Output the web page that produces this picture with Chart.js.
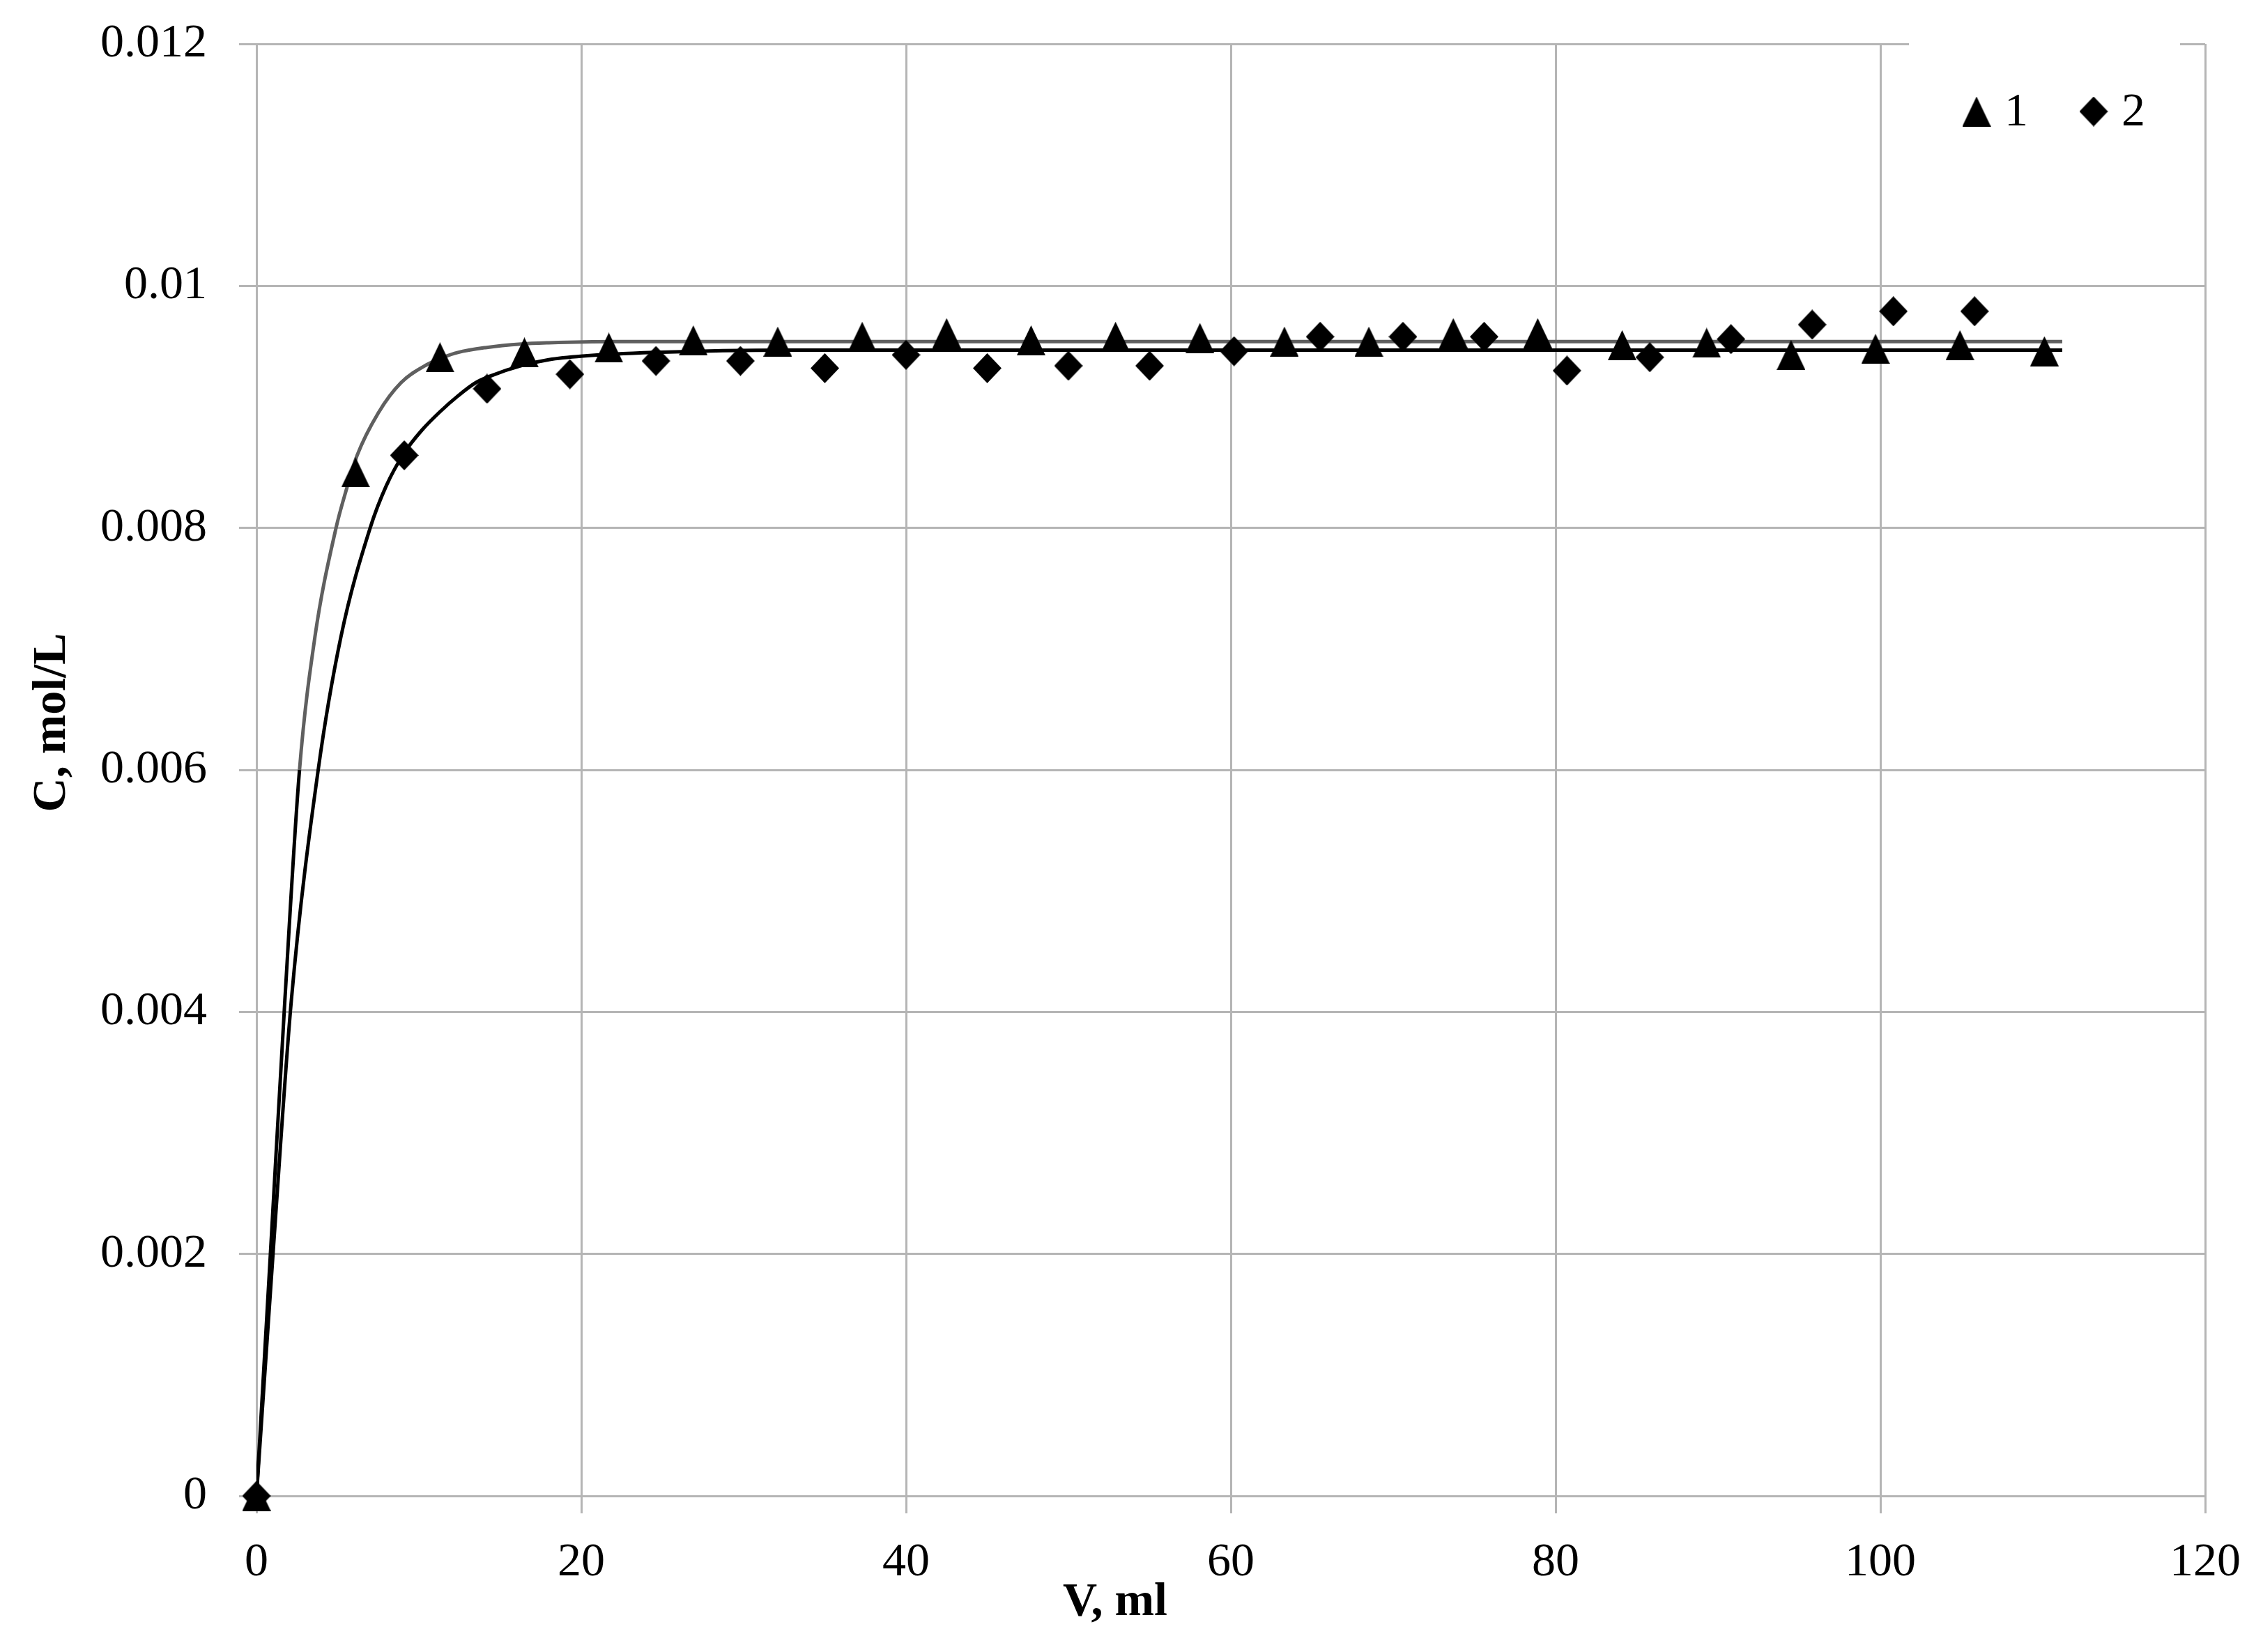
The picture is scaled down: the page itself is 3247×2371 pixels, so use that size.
<!DOCTYPE html>
<html>
<head>
<meta charset="utf-8">
<script src="https://cdn.jsdelivr.net/npm/chart.js@4.4.1/dist/chart.umd.min.js"></script>
<style>
  html, body { margin: 0; padding: 0; background: #fff; }
  canvas { display: block; }
</style>
</head>
<body>
<canvas id="chart" width="3247" height="2371"></canvas>
<script>
// series 1 (triangles)
const volume1 = [0, 6.1, 11.3, 16.5, 21.7, 26.9, 32.1, 37.3, 42.5, 47.7, 52.9, 58.1, 63.3, 68.5, 73.7, 78.9, 84.1, 89.3, 94.5, 99.7, 104.9, 110.1];
const conc1 = [0, 0.00846, 0.00941, 0.00945, 0.00949, 0.00955, 0.00954, 0.00958, 0.00961, 0.00955, 0.00958, 0.00957, 0.00954, 0.00954, 0.00961, 0.00961, 0.00951, 0.00953, 0.00943, 0.00948, 0.00951, 0.00946];

// series 2 (diamonds)
const volume2 = [0, 9.1, 14.2, 19.3, 24.6, 29.8, 35.0, 40.0, 45.0, 50.0, 55.0, 60.2, 65.5, 70.6, 75.6, 80.7, 85.8, 90.8, 95.8, 100.8, 105.8];
const conc2 = [0, 0.00860, 0.00915, 0.00927, 0.00938, 0.00938, 0.00932, 0.00943, 0.00932, 0.00934, 0.00934, 0.00946, 0.00958, 0.00958, 0.00958, 0.00930, 0.00941, 0.00956, 0.00968, 0.00979, 0.00979];

// fitted curves, points
const fitVolume1 = [0, 0.9, 1.75, 2.65, 3.6, 4.9, 5.5, 6.2, 7.5, 8.9, 10.5, 11.5, 12.4, 14.1, 16.3, 18, 22, 30, 111.2];
const fitConc1 = [0, 0.0021, 0.0041, 0.0060, 0.0071, 0.0080, 0.0083, 0.0086, 0.00895, 0.0092, 0.00935, 0.00941, 0.00945, 0.00949, 0.00952, 0.00953, 0.00954, 0.00954, 0.00954];
const fitVolume2 = [0, 1.07, 2.15, 3.8, 5.2, 7.0, 8.0, 9.1, 10.2, 11.3, 12.4, 13.5, 14.5, 16.3, 18, 20.1, 24.5, 32.7, 111.2];
const fitConc2 = [0, 0.0021, 0.0041, 0.0060, 0.0071, 0.0080, 0.00835, 0.00862, 0.00881, 0.00896, 0.00909, 0.0092, 0.00926, 0.00934, 0.00939, 0.00942, 0.00945, 0.00947, 0.00947];

const seriesNames = ['1', '2'];
const xTitle = 'V, ml';
const yTitle = 'C, mol/L';

function toPoints(xs, ys) {
    return xs.map((x, i) => ({ x: x, y: ys[i] }));
}

// Excel-like markers: box 41 x 43
function makeMarker(kind) {
    const c = document.createElement('canvas');
    c.width = 41;
    c.height = 43;
    const g = c.getContext('2d');
    g.fillStyle = '#000';
    g.beginPath();
    if (kind === 'triangle') {
        g.moveTo(20.5, 0);
        g.lineTo(41, 43);
        g.lineTo(0, 43);
    } else {
        g.moveTo(20.5, 0);
        g.lineTo(41, 21.5);
        g.lineTo(20.5, 43);
        g.lineTo(0, 21.5);
    }
    g.closePath();
    g.fill();
    return c;
}

const triangle = makeMarker('triangle');
const diamond = makeMarker('diamond');

const FONT = "'Liberation Serif', 'DejaVu Serif', serif";
const GRID = '#b5b5b5';
const FIT_GRAY = '#5f5f5f';

Chart.defaults.font.family = FONT;
Chart.defaults.color = '#000';

const axisTitles = {
    id: 'axisTitles',
    afterDraw(chart) {
        const ctx = chart.ctx;
        ctx.save();
        ctx.fillStyle = '#000';
        ctx.font = 'bold 68px ' + FONT;
        ctx.textAlign = 'center';
        ctx.textBaseline = 'middle';
        ctx.fillText(xTitle, 1600, 2300);
        ctx.translate(75, 1037);
        ctx.rotate(-Math.PI / 2);
        ctx.fillText(yTitle, 0, 0);
        ctx.restore();
    }
};

// legend in the top right corner, on a white box over the top gridline
const legendBox = {
    id: 'legendBox',
    beforeDatasetsDraw(chart) {
        const a = chart.chartArea;
        const ctx = chart.ctx;
        ctx.save();
        ctx.fillStyle = '#fff';
        ctx.fillRect(a.right - 425, a.top - 10, 389, 200);
        ctx.restore();
    },
    afterDatasetsDraw(chart) {
        const a = chart.chartArea;
        const ctx = chart.ctx;
        const y = a.top + 97;
        ctx.save();
        ctx.fillStyle = '#000';
        ctx.font = '68px ' + FONT;
        ctx.textAlign = 'left';
        ctx.textBaseline = 'middle';
        [[triangle, a.right - 328], [diamond, a.right - 160]].forEach(([img, x], i) => {
            ctx.drawImage(img, x - img.width / 2, y - img.height / 2);
            ctx.fillText(seriesNames[i], x + 40, y + 2);
        });
        ctx.restore();
    }
};

new Chart(document.getElementById('chart'), {
    type: 'scatter',
    data: {
        datasets: [
            {
                label: seriesNames[0],
                data: toPoints(volume1, conc1),
                pointStyle: triangle,
                pointRadius: 21,
                pointHoverRadius: 21,
                clip: false
            },
            {
                label: seriesNames[1],
                data: toPoints(volume2, conc2),
                pointStyle: diamond,
                pointRadius: 21,
                pointHoverRadius: 21,
                clip: false
            },
            {
                label: 'fit1',
                data: toPoints(fitVolume1, fitConc1),
                showLine: true,
                pointRadius: 0,
                borderColor: FIT_GRAY,
                borderWidth: 5,
                cubicInterpolationMode: 'monotone',
                segment: {
                    borderColor: c => c.p0.parsed.x < 2.65 ? '#000' : FIT_GRAY
                }
            },
            {
                label: 'fit2',
                data: toPoints(fitVolume2, fitConc2),
                showLine: true,
                pointRadius: 0,
                borderColor: '#000',
                borderWidth: 5,
                cubicInterpolationMode: 'monotone'
            }
        ]
    },
    options: {
        responsive: false,
        animation: false,
        devicePixelRatio: 1,
        layout: { padding: { top: 63, right: 83, left: 0, bottom: 0 } },
        plugins: {
            legend: { display: false },
            tooltip: { enabled: false }
        },
        scales: {
            x: {
                type: 'linear',
                min: 0,
                max: 120,
                afterFit: s => { s.height = 224; },
                border: { display: false },
                grid: { color: GRID, lineWidth: 3, tickLength: 25, tickColor: GRID },
                ticks: { stepSize: 20, padding: 30, font: { size: 68 }, color: '#000', maxRotation: 0 }
            },
            y: {
                type: 'linear',
                min: 0,
                max: 0.012,
                afterFit: s => { s.width = 368; s.paddingTop = 0; s.paddingBottom = 0; },
                border: { display: false },
                grid: { color: GRID, lineWidth: 3, tickLength: 25, tickColor: GRID },
                ticks: {
                    stepSize: 0.002,
                    padding: 46,
                    font: { size: 68 },
                    color: '#000',
                    callback: v => String(Number(v.toFixed(6)))
                }
            }
        }
    },
    plugins: [legendBox, axisTitles]
});
</script>
</body>
</html>
